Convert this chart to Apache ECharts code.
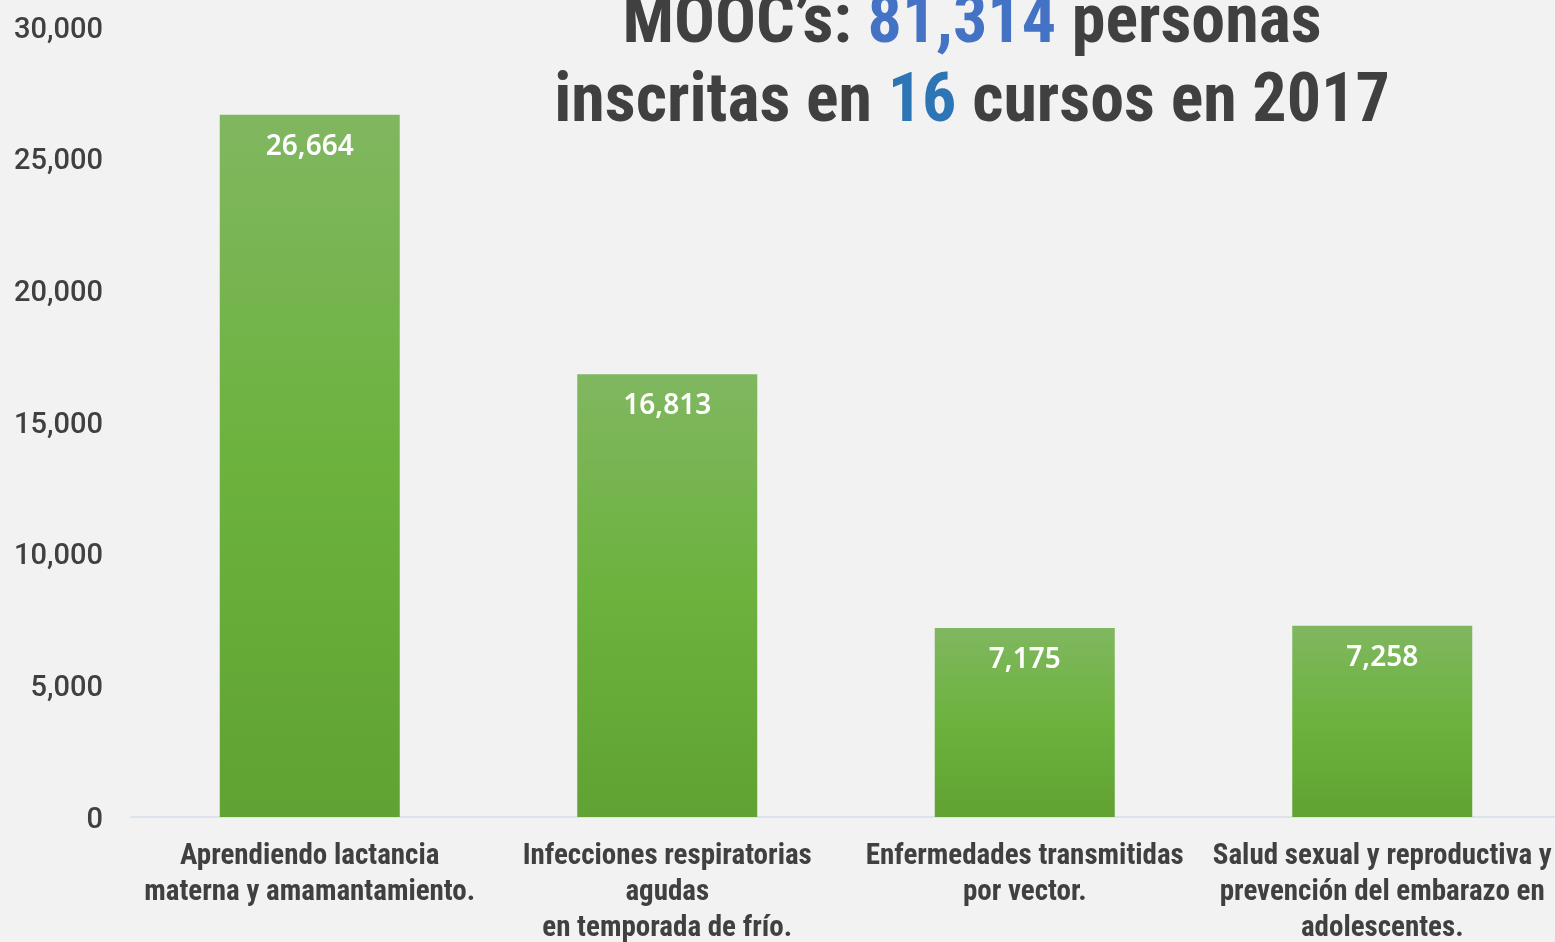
<!DOCTYPE html>
<html><head><meta charset="utf-8">
<script src="https://cdn.jsdelivr.net/npm/echarts@6/dist/echarts.min.js"></script>
<style>html,body{margin:0;padding:0;background:#f2f2f2}#c{width:1555px;height:942px}</style>
</head><body><div id="c"></div>
<script>
const categories = [
  "Aprendiendo lactancia\nmaterna y amamantamiento.",
  "Infecciones respiratorias\nagudas\nen temporada de frío.",
  "Enfermedades transmitidas\npor vector.",
  "Salud sexual y reproductiva y\nprevención del embarazo en\nadolescentes."
];
const inscritos = [26664, 16813, 7175, 7258];
const yTicks = { min: 0, max: 30000, interval: 5000 };
const titleTotal = "81,314";
const titleCursos = "16";
const titleYear = "2017";

const narrow = '"Roboto Condensed", "Open Sans Condensed", sans-serif';
const chart = echarts.init(document.getElementById('c'));
chart.setOption({
  backgroundColor: '#f2f2f2',
  title: {
    text: '{a|MOOC’s: }{b|' + titleTotal + '}{a| personas}\n{a|inscritas en }{c|' + titleCursos + '}{a| cursos en ' + titleYear + '}',
    left: 967, top: -20, textAlign: 'center',
    textStyle: {
      rich: {
        a: { fontFamily: narrow, fontWeight: 'bold', fontSize: 68, color: '#404040', lineHeight: 79 },
        b: { fontFamily: narrow, fontWeight: 'bold', fontSize: 68, color: '#4472c4', lineHeight: 79 },
        c: { fontFamily: narrow, fontWeight: 'bold', fontSize: 68, color: '#2e75b6', lineHeight: 79 }
      }
    }
  },
  grid: { left: 131, right: -6, top: 27, bottom: 125, containLabel: false, outerBoundsMode: 'none' },
  xAxis: {
    type: 'category', data: categories,
    axisLine: { lineStyle: { color: '#dde3ea', width: 2 } },
    axisTick: { show: false },
    axisLabel: {
      interval: 0, margin: 22, color: '#404040', fontFamily: narrow, fontWeight: 'bold',
      fontSize: 29, lineHeight: 36
    }
  },
  yAxis: {
    type: 'value', min: yTicks.min, max: yTicks.max, interval: yTicks.interval,
    splitLine: { show: false }, axisLine: { show: false }, axisTick: { show: false },
    axisLabel: {
      margin: 28,
      formatter: v => '{v|' + v.toLocaleString('en-US') + '}',
      rich: {
        v: { color: '#404040', fontFamily: 'Roboto, sans-serif', fontWeight: 500, fontSize: 29, padding: [7, 0, 0, 0] }
      }
    }
  },
  series: [{
    type: 'bar', data: inscritos, barWidth: 180,
    itemStyle: {
      color: new echarts.graphic.LinearGradient(0, 0, 0, 1, [
        { offset: 0, color: '#80b760' },
        { offset: 0.5, color: '#6cb23d' },
        { offset: 1, color: '#60a233' }
      ])
    },
    label: {
      show: true, position: 'insideTop', distance: 18, color: '#ffffff',
      fontFamily: '"Noto Sans", "Open Sans", sans-serif', fontWeight: 600, fontSize: 28,
      formatter: p => p.value.toLocaleString('en-US')
    }
  }]
});
</script></body></html>
